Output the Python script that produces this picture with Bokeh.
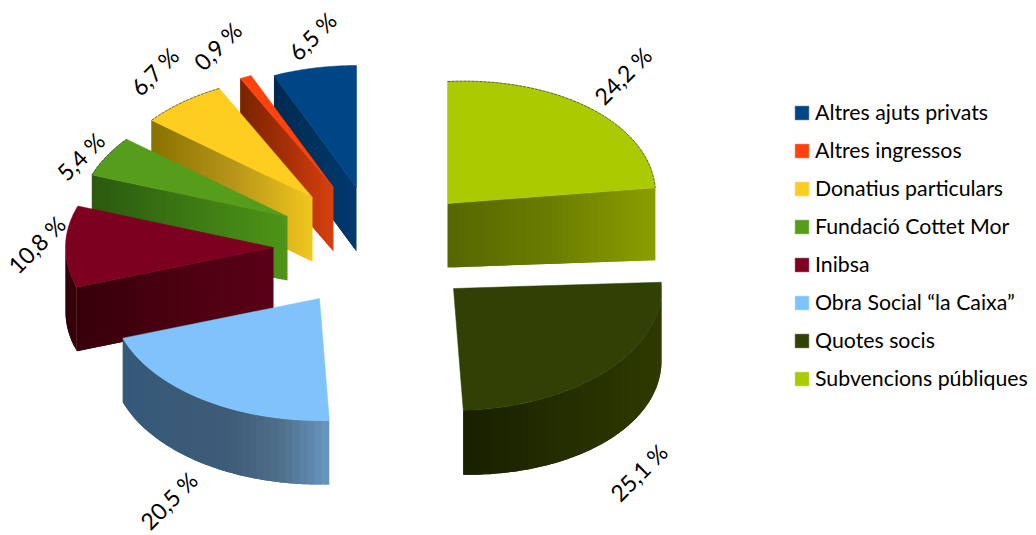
import math
from bokeh.plotting import figure
from bokeh.models import ColumnDataSource, Legend, LegendItem
from bokeh.core.properties import value
from bokeh.embed import file_html
from bokeh.resources import INLINE

# ---- chart data (clockwise from twelve o'clock) ----
categories = ["Subvencions públiques", "Quotes socis", "Obra Social “la Caixa”", "Inibsa",
              "Fundació Cottet Mor", "Donatius particulars", "Altres ingressos", "Altres ajuts privats"]
shares = [24.2, 25.1, 20.5, 10.8, 5.4, 6.7, 0.9, 6.5]
top_colors = ["#abcb00", "#314004", "#80c2fb", "#7e0021", "#579d1c", "#fdcd20", "#ff420e", "#004586"]

# ---- styling and layout of the exploded 3D pie ----
side_stops = [["#566600", "#6a7c00", "#8a9e00"],
              ["#182000", "#242e00", "#2e3a00"],
              ["#36597a", "#3a5a78", "#3d5c78", "#506f8a", "#6a9ac8"],
              ["#33000a", "#4a0010", "#5a0018"],
              ["#2c5a10", "#3c7a14", "#4f9518"],
              ["#8a7300", "#b8951a", "#f2c81e"],
              ["#7a2400", "#a83008", "#d9400e"],
              ["#002a52", "#00335f", "#003a70"]]
apex_x = [447, 453, 319, 273, 287, 312, 333, 356]
apex_y = [203, 288, 298, 247, 216, 197, 187, 187]
shear = [-0.045, 0, 0, 0, 0, 0, 0, 0]
label_dx = [32, 31, -34, -29, -26, -28, -28, -2]
label_dy = [-33, 102, 101, -2, 0, -31, -31, -32]
edge_dashed = [True, False, False, False, True, True, False, False]
RX, RY, DEPTH = 208, 122, 64
draw_order = [0, 1, 7, 6, 5, 4, 3, 2]


def hex2rgb(c):
    return tuple(int(c[i:i + 2], 16) for i in (1, 3, 5))


def ramp(stops, t):
    t = min(max(t, 0), 1) * (len(stops) - 1)
    i = min(int(t), len(stops) - 2)
    a, b = hex2rgb(stops[i]), hex2rgb(stops[i + 1])
    f = t - i
    return "#%02x%02x%02x" % tuple(round(a[k] + (b[k] - a[k]) * f) for k in range(3))


p = figure(width=1036, height=535, x_range=(0, 1036), y_range=(535, 0),
           output_backend="svg", toolbar_location=None, min_border=0, outline_line_color=None)
p.axis.visible = False
p.grid.visible = False

total = sum(shares)
starts, ends = [], []
acc = 0.0
for v in shares:
    starts.append(acc / total * 360)
    acc += v
    ends.append(acc / total * 360)


def top_pt(i, deg):
    r = math.radians(deg)
    dx = RX * math.sin(r)
    return apex_x[i] + dx, apex_y[i] - RY * math.cos(r) + shear[i] * dx


def drop(i, x):
    return DEPTH + 0.04 * max(x - apex_x[i], 0)


tops = {}
for i in draw_order:
    strips = []
    # outer rim: the part of the arc that faces the viewer
    a0, a1 = max(starts[i], 90), min(ends[i], 270)
    if a1 > a0:
        n = max(int((a1 - a0) / 2), 2)
        for k in range(n):
            # each strip is painted over the previous one so no seam shows
            pts = [top_pt(i, a0 + (a1 - a0) * min(k + j * 0.5, n) / n) for j in range(5)]
            tx = [q[0] for q in pts]
            ty = [q[1] for q in pts]
            strips.append((tx + [q[0] for q in pts[::-1]],
                           ty + [q[1] + drop(i, q[0]) for q in pts[::-1]]))
    # radial cut face that faces the viewer
    face = None
    if ends[i] <= 90:
        face = ends[i]
    elif starts[i] >= 180:
        face = starts[i]
    if face is not None:
        xr, yr = top_pt(i, face)
        n = 40
        for k in range(n):
            s0, s1 = k / n, min((k + 2) / n, 1)
            xa, ya = apex_x[i] + (xr - apex_x[i]) * s0, apex_y[i] + (yr - apex_y[i]) * s0
            xb, yb = apex_x[i] + (xr - apex_x[i]) * s1, apex_y[i] + (yr - apex_y[i]) * s1
            strips.append(([xa, xb, xb, xa], [ya, yb, yb + drop(i, xb), ya + drop(i, xa)]))
    allx = [x for st in strips for x in st[0]]
    lo, hi = min(allx), max(allx)
    cols = [ramp(side_stops[i], (sum(st[0]) / len(st[0]) - lo) / (hi - lo)) for st in strips]
    src = ColumnDataSource(dict(xs=[st[0] for st in strips], ys=[st[1] for st in strips], c=cols))
    p.patches("xs", "ys", source=src, fill_color="c", line_color=None)
    # top surface
    m = max(int((ends[i] - starts[i]) / 1.0), 2)
    arc = [top_pt(i, starts[i] + (ends[i] - starts[i]) * k / m) for k in range(m + 1)]
    xs = [apex_x[i]] + [q[0] for q in arc]
    ys = [apex_y[i]] + [q[1] for q in arc]
    tops[i] = p.patch(xs, ys, fill_color=top_colors[i], line_color=top_colors[i], line_width=0.5)
    if edge_dashed[i]:
        p.line([q[0] for q in arc], [q[1] for q in arc], line_color="#333333", line_width=1,
               line_dash="3 1", line_alpha=0.7)

# percentage labels
lx, ly, lt = [], [], []
for i, v in enumerate(shares):
    mx, my = top_pt(i, (starts[i] + ends[i]) / 2)
    lx.append(mx + label_dx[i])
    ly.append(my + label_dy[i])
    lt.append(f"{v:.1f}".replace(".", ",") + " %")
p.text(lx, ly, text=lt, angle=math.pi / 4, text_align="center", text_baseline="middle",
       text_font=value("Lato"), text_font_size="23px", text_color="#000000")

# legend: alphabetical, i.e. the reverse of the drawing order round the pie
items = [LegendItem(label=categories[i], renderers=[tops[i]]) for i in range(len(categories) - 1, -1, -1)]
legend = Legend(items=items, location=(793, 144), orientation="vertical", padding=0, margin=0,
                spacing=12, glyph_width=17, glyph_height=17, label_height=24, label_standoff=5,
                label_text_font="Lato", label_text_font_size="21.3px", label_text_color="#000000",
                label_text_baseline="middle", background_fill_alpha=0, border_line_alpha=0)
p.add_layout(legend, "center")

open("out.html", "w").write(file_html(p, INLINE))
